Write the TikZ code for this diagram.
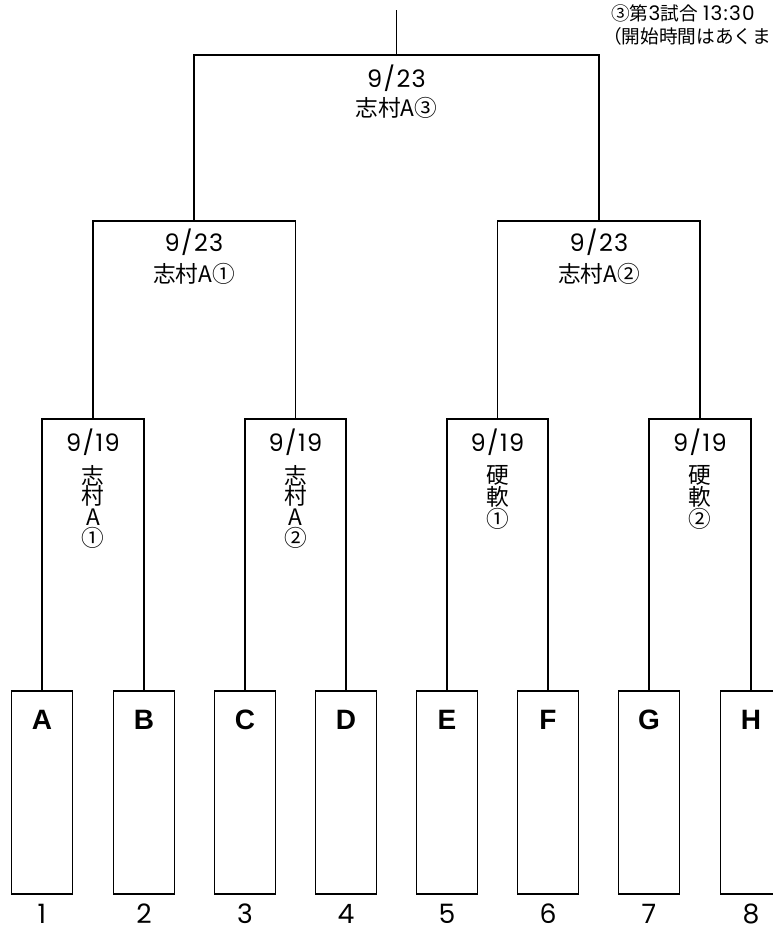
\documentclass[tikz,border=0pt]{standalone}
\usepackage{fontspec}
\setmainfont{Noto Sans CJK JP}
\newfontfamily\latbold{Liberation Sans}
\newfontfamily\numfont[LetterSpace=6]{Poppins}
\usetikzlibrary{positioning}
\tikzset{
    team/.style = {rectangle, draw=black, line width=1pt, minimum width=45.75pt, minimum height=152.25pt, inner sep=0pt},
    teamlbl/.style = {inner sep=0pt, font=\latbold\bfseries\fontsize{21}{21}\selectfont},
    seed/.style = {inner sep=0pt, anchor=north, font=\numfont\fontsize{20}{20}\selectfont},
    date/.style = {inner sep=0pt, font=\numfont\fontsize{18}{19}\selectfont},
    venue/.style = {inner sep=0pt, font=\fontsize{17}{19}\selectfont},
    vlab/.style = {inner sep=0pt, anchor=north, align=center, font=\fontsize{17}{15.5}\selectfont},
    note/.style = {inner sep=0pt, anchor=west, font=\fontsize{14}{16}\selectfont},
    bracket/.style = {draw=black, line width=1pt},
}
\newcommand{\N}[1]{{\numfont\fontsize{15}{15}\selectfont #1}}

\begin{document}
\begin{tikzpicture}[x=0.75pt, y=-0.75pt]
\useasboundingbox (0,0) rectangle (773,929);
% teams
\node[team] at (42, 792.5) (A) {};
\node[team] at (144, 792.5) (B) {};
\node[team] at (245, 792.5) (C) {};
\node[team] at (346, 792.5) (D) {};
\node[team] at (447, 792.5) (E) {};
\node[team] at (548, 792.5) (F) {};
\node[team] at (649, 792.5) (G) {};
\node[team] at (751, 792.5) (H) {};
\node[teamlbl] at (42, 720) (lA) {A};
\node[teamlbl] at (144, 720) (lB) {B};
\node[teamlbl] at (245, 720) (lC) {C};
\node[teamlbl] at (346, 720) (lD) {D};
\node[teamlbl] at (447, 720) (lE) {E};
\node[teamlbl] at (548, 720) (lF) {F};
\node[teamlbl] at (649, 720) (lG) {G};
\node[teamlbl] at (751, 720) (lH) {H};
\node[seed] at (42, 904) (n1) {1};
\node[seed] at (144, 904) (n2) {2};
\node[seed] at (245, 904) (n3) {3};
\node[seed] at (346, 904) (n4) {4};
\node[seed] at (447, 904) (n5) {5};
\node[seed] at (548, 904) (n6) {6};
\node[seed] at (649, 904) (n7) {7};
\node[seed] at (751, 904) (n8) {8};
%
\coordinate (m1) at (93, 419);
\coordinate (m2) at (295.5, 419);
\coordinate (m3) at (497.5, 419);
\coordinate (m4) at (700, 419);
\coordinate (s1) at (194, 221);
\coordinate (s2) at (599, 221);
\coordinate (fin) at (396.5, 55);
\coordinate (top) at (396.5, 10);
%
\draw[bracket] (A.north) |- (m1) -| (B.north);
\draw[bracket] (C.north) |- (m2) -| (D.north);
\draw[bracket] (E.north) |- (m3) -| (F.north);
\draw[bracket] (G.north) |- (m4) -| (H.north);
\draw[bracket] (m1) |- (s1) -| (m2);
\draw[bracket] (m3) |- (s2) -| (m4);
\draw[bracket] (s1) |- (fin) -| (s2);
\draw[bracket] (fin) -- (top);
% round 1
\node[date] at (93, 442) (d1) {9/19};
\node[date] at (295.5, 442) (d2) {9/19};
\node[date] at (497.5, 442) (d3) {9/19};
\node[date] at (700, 442) (d4) {9/19};
\node[vlab] at (93, 465) (v1) {志\\村\\A\\①};
\node[vlab] at (295.5, 465) (v2) {志\\村\\A\\②};
\node[vlab] at (497.5, 465) (v3) {硬\\軟\\①};
\node[vlab] at (700, 465) (v4) {硬\\軟\\②};
% round 2 and final
\node[date] at (194, 242) (d5) {9/23};
\node[venue] at (194, 274) (v5) {志村A①};
\node[date] at (599, 242) (d6) {9/23};
\node[venue] at (599, 274) (v6) {志村A②};
\node[date] at (396.5, 78) (d7) {9/23};
\node[venue] at (396.5, 108) (v7) {志村A③};
% schedule note
\node[note] at (611, 13) (t1) {③第\N{3}試合\hspace{4pt}\N{13:30}};
\node[note] at (603, 36) (t2) {（開始時間はあくま};
\end{tikzpicture}
\end{document}
